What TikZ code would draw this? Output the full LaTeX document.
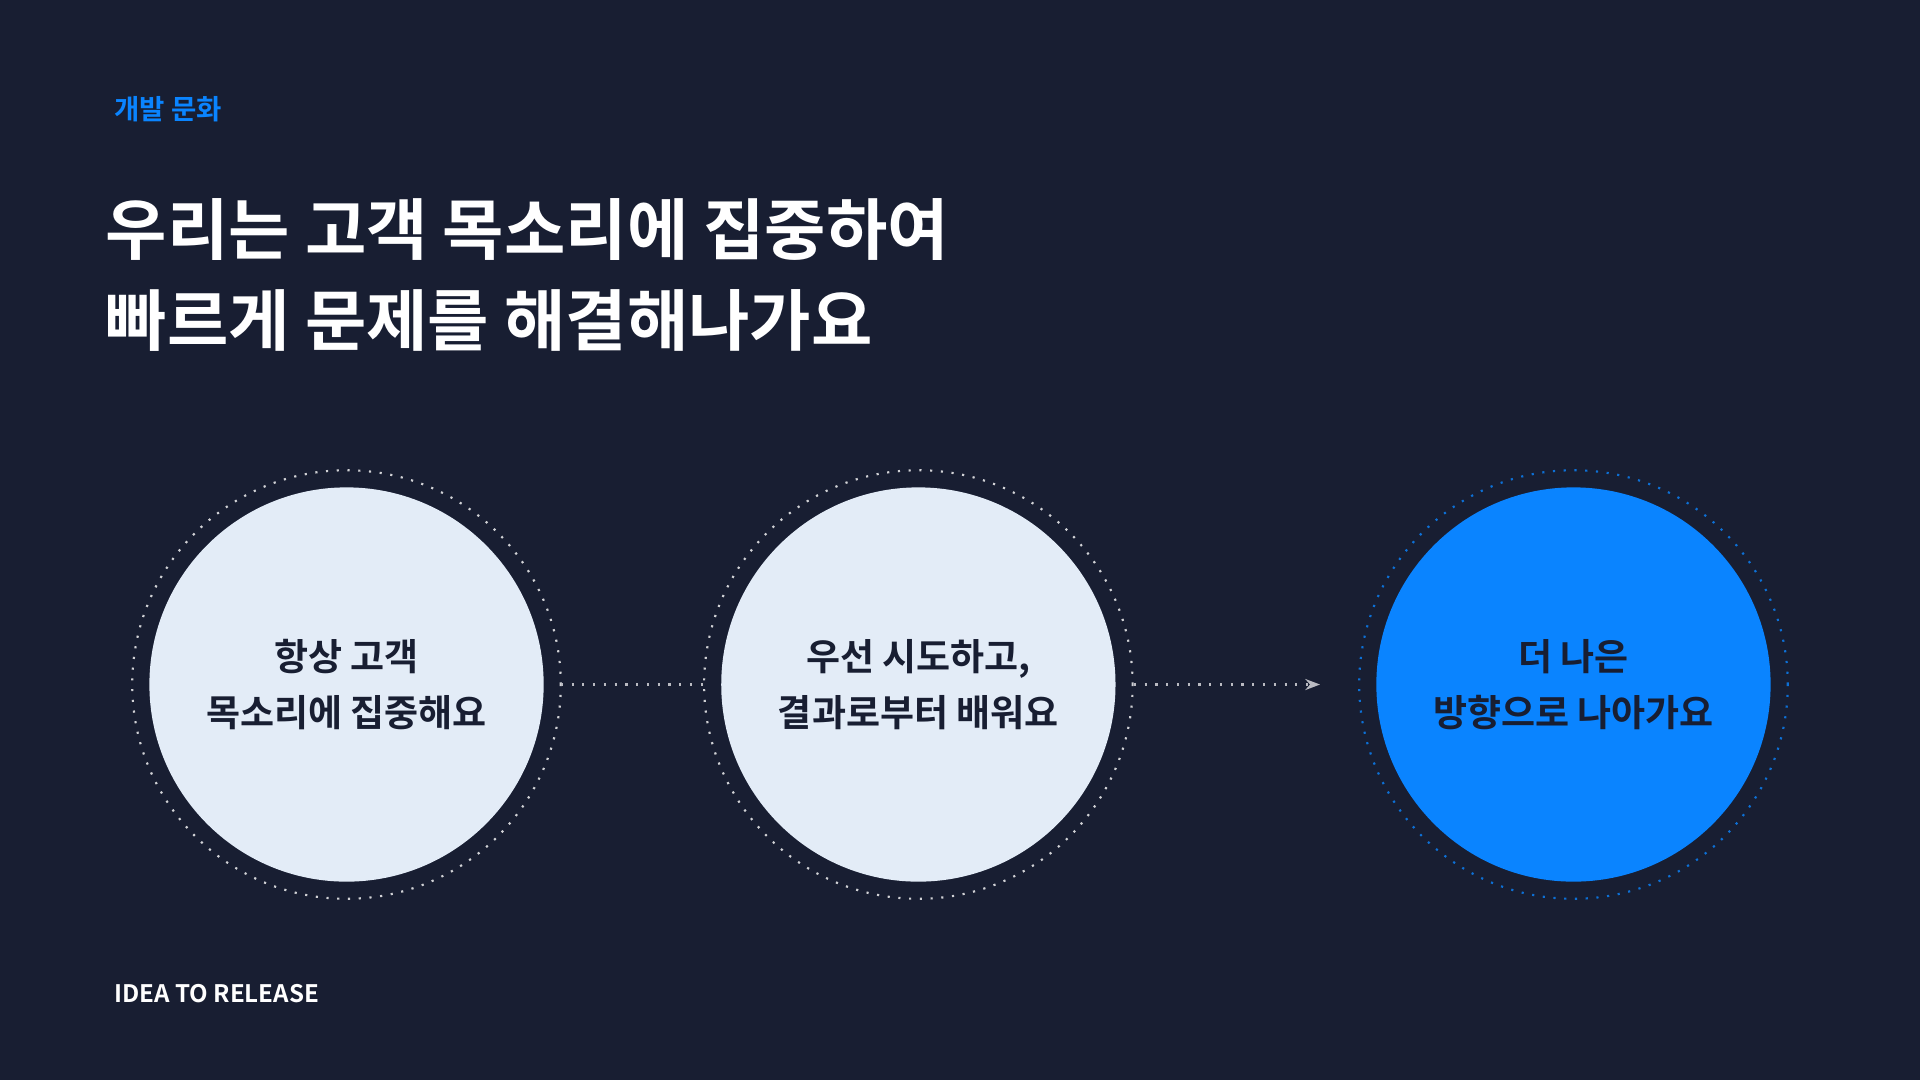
\documentclass[tikz,border=0pt]{standalone}
\usepackage{fontspec}
\setmainfont{Noto Sans CJK KR}
\newfontfamily\kr{Noto Sans CJK KR}
\newfontfamily\krbold{Noto Sans CJK KR Bold}
\usetikzlibrary{arrows.meta,positioning}
\definecolor{bgnavy}{HTML}{181E32}
\definecolor{pale}{HTML}{E3ECF7}
\definecolor{brand}{HTML}{0A84FF}
\tikzset{
  step circle/.style={circle, minimum size=3.22cm, inner sep=0pt, align=center, font=\krbold\fontsize{8.6}{13}\selectfont},
  ring/.style={dotted, line width=0.5pt},
  link/.style={dotted, white!70!bgnavy, line width=0.5pt}
}
\begin{document}
\begin{tikzpicture}
    \fill [bgnavy] (0,0) rectangle (15.68,-8.82);
    \useasboundingbox (0,0) rectangle (15.68,-8.82);
    % heading
    \node [anchor=west, text=brand, font=\krbold\fontsize{6.4}{8}\selectfont] (tag) at (0.81,-0.89) {개발 문화};
    \node [anchor=north west, text=white, align=left, font=\krbold\fontsize{15.5}{21}\selectfont] (title) at (0.74,-1.50) {우리는 고객 목소리에 집중하여\\빠르게 문제를 해결해나가요};
    % steps
    \node [step circle, fill=pale, text=bgnavy] (c1) at (2.83,-5.59) {항상 고객\\목소리에 집중해요};
    \node [step circle, fill=pale, text=bgnavy] (c2) at (7.50,-5.59) {우선 시도하고,\\결과로부터 배워요};
    \node [step circle, fill=brand, text=bgnavy] (c3) at (12.85,-5.59) {더 나은\\방향으로 나아가요};
    \draw [ring, white!80!bgnavy] (c1) circle (1.75);
    \draw [ring, white!80!bgnavy] (c2) circle (1.75);
    \draw [ring, brand!80!bgnavy] (c3) circle (1.75);
    \coordinate (e1) at (4.58,-5.59);
    \coordinate (s2) at (5.75,-5.59);
    \coordinate (e2) at (9.26,-5.59);
    \coordinate (s3) at (10.78,-5.59);
    \draw [link] (e1) -- (s2);
    \draw [link, -{Stealth[length=1.2mm]}] (e2) -- (s3);
    % footer
    \node [anchor=west, text=white, font=\krbold\fontsize{5.6}{7}\selectfont] (foot) at (0.81,-8.11) {IDEA TO RELEASE};
\end{tikzpicture}
\end{document}
